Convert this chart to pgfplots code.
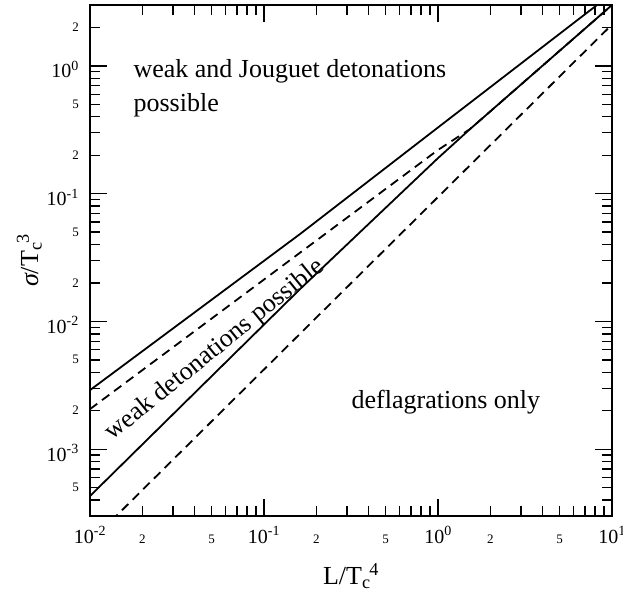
\documentclass[border=0pt]{standalone}
\usepackage{fontspec}
\setmainfont{Liberation Serif}
\usepackage{pgfplots}
\pgfplotsset{compat=1.18}
\begin{document}
\begin{tikzpicture}
\begin{axis}[
  xmode=log, ymode=log,
  scale only axis, width=522pt, height=511pt,
  xmin=0.01, xmax=10, ymin=3e-4, ymax=3,
  axis line style={line width=2pt},
  tick style={line width=1.4pt, black},
  major tick length=17pt, minor tick length=10pt,
  xtick={0.01,0.1,1,10},
  xticklabels={10\textsuperscript{-2},10\textsuperscript{-1},10\textsuperscript{0},10\textsuperscript{1}},
  ytick={1e-3,1e-2,1e-1,1},
  yticklabels={10\textsuperscript{-3},10\textsuperscript{-2},10\textsuperscript{-1},10\textsuperscript{0}},
  minor xtick={0.02,0.03,0.04,0.05,0.06,0.07,0.08,0.09,0.2,0.3,0.4,0.5,0.6,0.7,0.8,0.9,2,3,4,5,6,7,8,9},
  minor ytick={4e-4,5e-4,6e-4,7e-4,8e-4,9e-4,2e-3,3e-3,4e-3,5e-3,6e-3,7e-3,8e-3,9e-3,2e-2,3e-2,4e-2,5e-2,6e-2,7e-2,8e-2,9e-2,0.2,0.3,0.4,0.5,0.6,0.7,0.8,0.9,2},
  tick label style={font=\fontsize{20}{20}\selectfont, inner sep=0pt},
  xticklabel style={anchor=base, yshift=-27pt},
  yticklabel style={anchor=base east, xshift=-11pt, yshift=-12pt},
  extra x ticks={0.02,0.05,0.2,0.5,2,5},
  extra x tick labels={2,5,2,5,2,5},
  extra x tick style={major tick length=10pt, tick label style={font=\fontsize{13}{13}\selectfont}},
  extra y ticks={5e-4,2e-3,5e-3,2e-2,5e-2,0.2,0.5,2},
  extra y tick labels={5,2,5,2,5,2,5,2},
  extra y tick style={major tick length=10pt, tick label style={font=\fontsize{13}{13}\selectfont, yshift=8pt}},
  xlabel={L/T\textsubscript{c}\kern-0.05em\textsuperscript{4}},
  ylabel={{\itshape σ}/T\textsubscript{c}\kern-0.05em\textsuperscript{3}},
  label style={font=\fontsize{26}{26}\selectfont},
  xlabel style={at={(axis description cs:0.5,-0.135)}, anchor=base},
  ylabel style={at={(axis description cs:-0.0996,0.5)}, anchor=base},
  clip=true,
]
\addplot[black, line width=1.8pt] coordinates {(0.01,2.9e-3) (0.161,0.0483) (1,0.33) (8.2,3.0) (10,3.6)};
\addplot[black, line width=1.8pt, dash pattern=on 9pt off 6pt] coordinates {(0.01,2.06e-3) (1,0.22) (1.53,0.321) (10,3.0)};
\addplot[black, line width=1.8pt] coordinates {(0.01,4.3e-4) (0.161,0.0179) (1,0.19) (1.53,0.321) (10,3.0)};
\addplot[black, line width=1.8pt, dash pattern=on 9pt off 6pt] coordinates {(0.01,1.88e-4) (1,0.0942) (10,2.11)};
\node[anchor=base west, font=\fontsize{26}{30}\selectfont] at (axis cs:0.017,0.805) {weak and Jouguet detonations};
\node[anchor=base west, font=\fontsize{26}{30}\selectfont] at (axis cs:0.017,0.444) {possible};
\node[anchor=base, rotate=39, font=\fontsize{26}{30}\selectfont] at (axis cs:0.0551,5.46e-3) {weak detonations possible};
\node[anchor=base, font=\fontsize{26}{30}\selectfont] at (axis cs:1.11,2.1e-3) {deflagrations only};
\end{axis}
\pgfresetboundingbox
\path (current axis.south west) ++(-90pt,-78pt) rectangle ++(623pt,594pt);
\end{tikzpicture}
\end{document}
